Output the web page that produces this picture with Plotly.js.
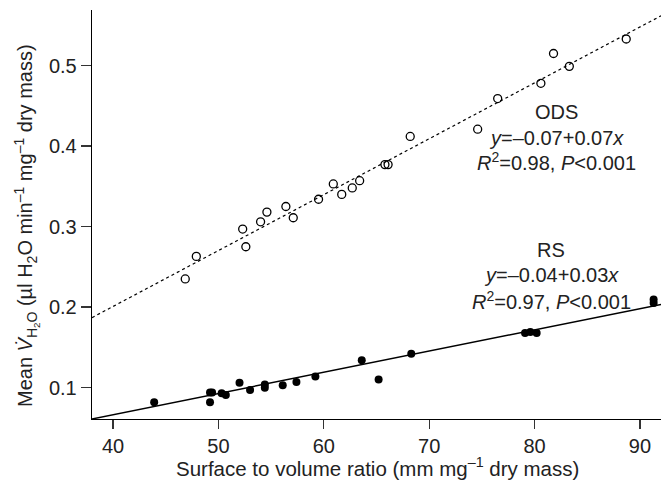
<!DOCTYPE html>
<html>
<head>
<meta charset="utf-8">
<script src="https://cdn.plot.ly/plotly-3.0.1.min.js"></script>
<style>
html,body{margin:0;padding:0;background:#fff;}
#chart{width:670px;height:480px;}
</style>
</head>
<body>
<div id="chart"></div>
<script>
// ODS (open circles)
const odsX = [46.85, 47.9, 52.3, 52.6, 54.0, 54.6, 56.4, 57.1, 59.5, 60.9, 61.7, 62.7, 63.4, 65.8, 66.1, 68.2, 74.6, 76.5, 80.6, 81.8, 83.3, 88.7];
const odsY = [0.235, 0.263, 0.297, 0.275, 0.306, 0.318, 0.325, 0.311, 0.334, 0.353, 0.340, 0.348, 0.357, 0.377, 0.377, 0.412, 0.421, 0.459, 0.478, 0.515, 0.499, 0.533];
// RS (filled circles)
const rsX = [43.9, 49.2, 49.4, 49.2, 50.3, 50.7, 52.0, 53.0, 54.4, 54.4, 56.1, 57.4, 59.2, 63.6, 65.2, 68.3, 79.1, 79.6, 80.2, 91.3, 91.3];
const rsY = [0.082, 0.094, 0.094, 0.082, 0.093, 0.091, 0.106, 0.097, 0.104, 0.100, 0.103, 0.107, 0.114, 0.134, 0.110, 0.142, 0.168, 0.169, 0.168, 0.2096, 0.205];
// Fitted lines (intercept, slope) as drawn
const odsFit = {a: -0.0767, b: 0.00694};
const rsFit = {a: -0.0390, b: 0.002635};
const xRange = [38, 92];
const yRange = [0.0611, 0.569];
const xTicks = [40, 50, 60, 70, 80, 90];
const yTicks = [0.1, 0.2, 0.3, 0.4, 0.5];
const odsLabel = ['ODS', '<i>y</i>=–0.07+0.07<i>x</i>', '<i>R</i><sup>2</sup>=0.98, <i>P</i><0.001'];
const rsLabel = ['RS', '<i>y</i>=–0.04+0.03<i>x</i>', '<i>R</i><sup>2</sup>=0.97, <i>P</i><0.001'];
const xTitle = 'Surface to volume ratio (mm mg<sup>–1</sup> dry mass)';
const yTitle = 'Mean <i>V̇</i><sub>H<sub>2</sub>O</sub> (µl H<sub>2</sub>O min<sup>–1</sup> mg<sup>–1</sup> dry mass)';

const fitLine = (f) => xRange.map(x => f.a + f.b * x);

const font = 'Liberation Sans, Arial, sans-serif';
const M = {l: 92, r: 9, t: 10, b: 61};
const W = 670, H = 480;
const pw = W - M.l - M.r, ph = H - M.t - M.b;
const px2paperX = (px) => (px - M.l) / pw;
const px2paperY = (py) => 1 - (py - M.t) / ph;

const traces = [
  {x: xRange, y: fitLine(odsFit), mode: 'lines', line: {color: '#000', width: 1.2, dash: '3px,3px'}, hoverinfo: 'skip'},
  {x: xRange, y: fitLine(rsFit), mode: 'lines', line: {color: '#000', width: 1.5}, hoverinfo: 'skip'},
  {x: odsX, y: odsY, mode: 'markers', marker: {symbol: 'circle-open', size: 8, color: '#000', line: {width: 1.3}}},
  {x: rsX, y: rsY, mode: 'markers', marker: {symbol: 'circle', size: 8, color: '#000'}}
];

const annFont = {family: font, size: 20, color: '#222'};
const textAnns = [];
[[odsLabel, 556, [112, 138, 162]], [rsLabel, 551, [250, 275, 300]]].forEach(([lines, cx, ys]) => {
  lines.forEach((t, i) => textAnns.push({
    x: px2paperX(cx), y: px2paperY(ys[i]), xref: 'paper', yref: 'paper',
    xanchor: 'center', yanchor: 'middle', text: t, showarrow: false, font: annFont
  }));
});
textAnns.push({
  x: px2paperX(377), y: px2paperY(467), xref: 'paper', yref: 'paper',
  xanchor: 'center', yanchor: 'middle', text: xTitle, showarrow: false, borderpad: 0,
  font: {family: font, size: 20.5, color: '#222'}
});
textAnns.push({
  x: px2paperX(26), y: px2paperY(226), xref: 'paper', yref: 'paper',
  xanchor: 'center', yanchor: 'middle', text: yTitle, showarrow: false, textangle: -90,
  font: {family: font, size: 20, color: '#222'}
});

const layout = {
  width: W, height: H,
  margin: M,
  showlegend: false,
  paper_bgcolor: '#fff', plot_bgcolor: '#fff',
  font: {family: font, size: 20, color: '#222'},
  xaxis: {
    range: xRange, tickvals: xTicks, showgrid: false, zeroline: false,
    showline: true, linecolor: '#000', linewidth: 1.3,
    ticks: 'outside', ticklen: 9, tickcolor: '#333', tickwidth: 1.3,
    tickfont: {family: font, size: 20, color: '#222'}
  },
  yaxis: {
    range: yRange, tickvals: yTicks, ticktext: yTicks.map(v => v.toFixed(1)), showgrid: false, zeroline: false,
    showline: true, linecolor: '#000', linewidth: 1.3,
    ticks: 'outside', ticklen: 10, tickcolor: '#333', tickwidth: 1.3,
    tickfont: {family: font, size: 20, color: '#222'}
  },
  annotations: textAnns
};

Plotly.newPlot('chart', traces, layout, {displayModeBar: false, staticPlot: true});
</script>
</body>
</html>
